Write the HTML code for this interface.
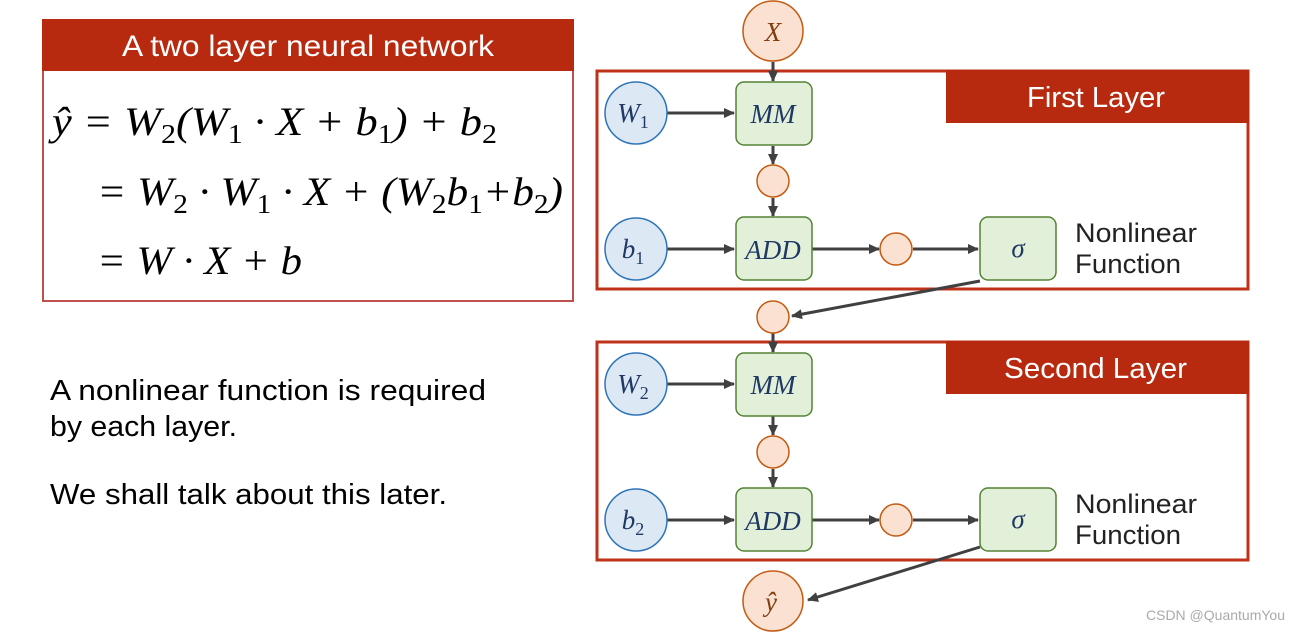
<!DOCTYPE html>
<html><head><meta charset="utf-8"><style>
html,body{margin:0;padding:0;background:#fff;}
svg{display:block;}
.m{font-family:"Liberation Serif",serif;font-style:italic;}
.s{font-family:"Liberation Sans",sans-serif;}
</style></head><body>
<svg width="1298" height="632" viewBox="0 0 1298 632" xmlns="http://www.w3.org/2000/svg">
<defs>
<marker id="a" markerWidth="12" markerHeight="12" refX="10" refY="6" orient="auto" markerUnits="userSpaceOnUse">
<path d="M0,1 L11,6 L0,11 z" fill="#404040"/></marker>
</defs>
<rect x="43" y="20" width="530" height="281" fill="#fff" stroke="#c0504d" stroke-width="2"/>
<rect x="42" y="19" width="532" height="52" fill="#b72a10"/>
<text x="122" y="56" textLength="372" lengthAdjust="spacingAndGlyphs" fill="#fff" font-size="30" class="s">A two layer neural network</text>
<g class="m" font-size="40" fill="#000">
<text x="52" y="135" textLength="445" lengthAdjust="spacingAndGlyphs">ŷ = W<tspan font-size="27" font-style="normal" dy="8">2</tspan><tspan dy="-8">(W</tspan><tspan font-size="27" font-style="normal" dy="8">1</tspan><tspan dy="-8"> · X + b</tspan><tspan font-size="27" font-style="normal" dy="8">1</tspan><tspan dy="-8">) + b</tspan><tspan font-size="27" font-style="normal" dy="8">2</tspan></text>
<text x="97" y="205" textLength="466" lengthAdjust="spacingAndGlyphs">= W<tspan font-size="27" font-style="normal" dy="8">2</tspan><tspan dy="-8"> · W</tspan><tspan font-size="27" font-style="normal" dy="8">1</tspan><tspan dy="-8"> · X + (W</tspan><tspan font-size="27" font-style="normal" dy="8">2</tspan><tspan dy="-8">b</tspan><tspan font-size="27" font-style="normal" dy="8">1</tspan><tspan dy="-8">+b</tspan><tspan font-size="27" font-style="normal" dy="8">2</tspan><tspan dy="-8">)</tspan></text>
<text x="97" y="274" textLength="205" lengthAdjust="spacingAndGlyphs">= W · X + b</text>
</g>
<g class="s" font-size="29" fill="#000">
<text x="50" y="400" textLength="436" lengthAdjust="spacingAndGlyphs">A nonlinear function is required</text>
<text x="50" y="436" textLength="187" lengthAdjust="spacingAndGlyphs">by each layer.</text>
<text x="50" y="504" textLength="397" lengthAdjust="spacingAndGlyphs">We shall talk about this later.</text>
</g>

<rect x="597" y="71" width="651" height="218" fill="none" stroke="#c0311a" stroke-width="3"/>
<rect x="946" y="70" width="303" height="53" fill="#b72a10"/>
<text x="1027" y="107" textLength="138" lengthAdjust="spacingAndGlyphs" fill="#fff" font-size="29" class="s">First Layer</text>
<rect x="597" y="342" width="651" height="218" fill="none" stroke="#c0311a" stroke-width="3"/>
<rect x="946" y="341" width="303" height="53" fill="#b72a10"/>
<text x="1004" y="378" textLength="183" lengthAdjust="spacingAndGlyphs" fill="#fff" font-size="29" class="s">Second Layer</text>

<g stroke="#404040" stroke-width="3" fill="none" marker-end="url(#a)">
<line x1="773" y1="62" x2="773" y2="81"/>
<line x1="667" y1="113" x2="734" y2="113"/>
<line x1="773" y1="146" x2="773" y2="164"/>
<line x1="773" y1="198" x2="773" y2="216"/>
<line x1="667" y1="249" x2="734" y2="249"/>
<line x1="812" y1="249" x2="879" y2="249"/>
<line x1="913" y1="249" x2="978" y2="249"/>
<line x1="980" y1="281" x2="792" y2="316"/>
<line x1="773" y1="333" x2="773" y2="352"/>
<line x1="667" y1="384" x2="734" y2="384"/>
<line x1="773" y1="416" x2="773" y2="435"/>
<line x1="773" y1="469" x2="773" y2="487"/>
<line x1="667" y1="520" x2="734" y2="520"/>
<line x1="812" y1="520" x2="879" y2="520"/>
<line x1="913" y1="520" x2="978" y2="520"/>
<line x1="980" y1="547" x2="808" y2="600"/>
</g>

<g fill="#fbe1d2" stroke="#c55a11" stroke-width="1.5">
<circle cx="773" cy="31" r="30"/>
<circle cx="773" cy="181" r="16"/>
<circle cx="896" cy="249" r="16"/>
<circle cx="773" cy="317" r="16"/>
<circle cx="773" cy="452" r="16"/>
<circle cx="896" cy="520" r="16"/>
<circle cx="773" cy="601" r="30"/>
</g>
<g fill="#dde8f5" stroke="#2e75b6" stroke-width="1.5">
<circle cx="636" cy="113" r="31"/>
<circle cx="636" cy="249" r="31"/>
<circle cx="636" cy="384" r="31"/>
<circle cx="636" cy="520" r="31"/>
</g>
<g fill="#e2f0d9" stroke="#548235" stroke-width="1.5">
<rect x="736" y="82" width="76" height="63" rx="8"/>
<rect x="736" y="217" width="76" height="63" rx="8"/>
<rect x="980" y="217" width="76" height="63" rx="8"/>
<rect x="736" y="353" width="76" height="63" rx="8"/>
<rect x="736" y="488" width="76" height="63" rx="8"/>
<rect x="980" y="488" width="76" height="63" rx="8"/>
</g>
<g class="m" font-size="27" fill="#1f3864" text-anchor="middle">
<text x="773" y="41" fill="#843c0c">X</text>
<text x="773" y="123">MM</text>
<text x="773" y="259">ADD</text>
<text x="1018" y="257">σ</text>
<text x="773" y="394">MM</text>
<text x="773" y="530">ADD</text>
<text x="1018" y="528">σ</text>
<text x="771" y="611" fill="#843c0c">ŷ</text>
<text x="633" y="122">W<tspan font-size="18" font-style="normal" dy="6">1</tspan></text>
<text x="633" y="258">b<tspan font-size="18" font-style="normal" dy="6">1</tspan></text>
<text x="633" y="393">W<tspan font-size="18" font-style="normal" dy="6">2</tspan></text>
<text x="633" y="529">b<tspan font-size="18" font-style="normal" dy="6">2</tspan></text>
</g>
<g class="s" font-size="27" fill="#222">
<text x="1075" y="242" textLength="122" lengthAdjust="spacingAndGlyphs">Nonlinear</text>
<text x="1075" y="273" textLength="106" lengthAdjust="spacingAndGlyphs">Function</text>
<text x="1075" y="513" textLength="122" lengthAdjust="spacingAndGlyphs">Nonlinear</text>
<text x="1075" y="544" textLength="106" lengthAdjust="spacingAndGlyphs">Function</text>
</g>
<text x="1146" y="620" class="s" font-size="14" fill="#aaa">CSDN @QuantumYou</text>
</svg>
</body></html>
